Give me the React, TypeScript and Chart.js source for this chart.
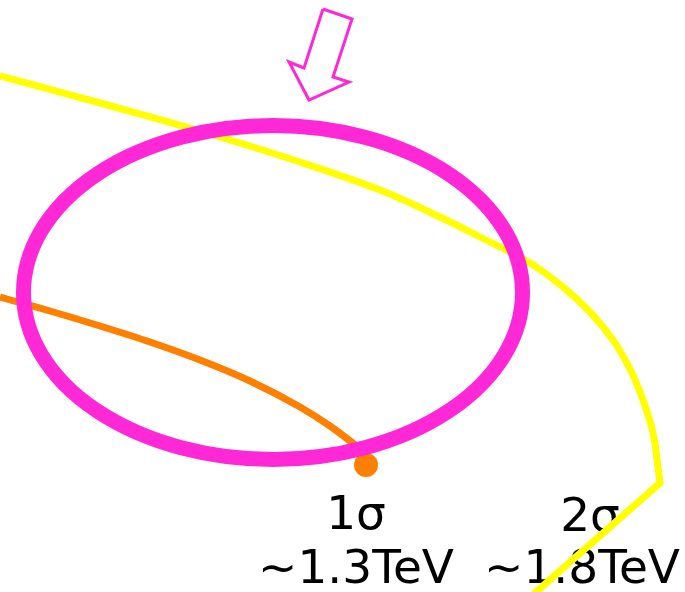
import { useEffect, useRef } from 'react';
import { Chart, registerables } from 'chart.js';

Chart.register(...registerables);

// Plane coordinates: x runs 0..685 to the right, y runs 0..592 downward.
const PLANE_W = 685;
const PLANE_H = 592;

// 2σ contour (yellow): smooth arc, then a straight edge after the corner
const yellowArcX = [0, 100, 200, 300, 380, 440, 480, 530, 563, 590, 613, 630, 643, 653, 658, 660];
const yellowArcY = [76, 103, 131, 162, 190, 217, 237, 263, 287, 312, 340, 369, 400, 433, 467, 483];
const yellowEdgeX = [660, 536, 529];
const yellowEdgeY = [483, 592, 598];

// 1σ contour (orange)
const orangeX = [0, 50, 100, 150, 200, 250, 300, 330, 358];
const orangeY = [297, 311, 326, 342, 360, 381, 407, 426, 447];

// end point of the 1σ contour
const dotX = [366];
const dotY = [465];

// outlined pointer arrow
const arrowX = [323, 352, 333, 349, 309, 289, 304, 323];
const arrowY = [9, 19, 77, 82, 100, 62, 68, 9];

// highlighted region (ellipse): centre and semi-axes
const ringCenter = [273, 292.5];
const ringRadii = [249.5, 167];

// annotations: [x centre, baseline y, text]
const labelX = [356, 356, 590, 582];
const labelY = [529, 583, 531, 583];
const labelText = ['1σ', '~1.3TeV', '2σ', '~1.8TeV'];

const YELLOW = '#ffff00';
const ORANGE = '#ff8000';
const MAGENTA = '#ff28d6';

const pts = (xs: number[], ys: number[]) => xs.map((x, i) => ({ x, y: ys[i] }));

const labelPlugin = {
  id: 'sigmaLabels',
  beforeDatasetsDraw(chart: any) {
    const { ctx, scales } = chart;
    ctx.save();
    ctx.fillStyle = '#000000';
    ctx.font = '47px "DejaVu Sans"';
    ctx.textAlign = 'center';
    ctx.textBaseline = 'alphabetic';
    labelText.forEach((t, i) => {
      ctx.fillText(t, scales.x.getPixelForValue(labelX[i]), scales.y.getPixelForValue(labelY[i]));
    });
    ctx.restore();
  },
};

const ringPlugin = {
  id: 'ring',
  afterDatasetsDraw(chart: any) {
    const { ctx, scales } = chart;
    const cx = scales.x.getPixelForValue(ringCenter[0]);
    const cy = scales.y.getPixelForValue(ringCenter[1]);
    const rx = Math.abs(scales.x.getPixelForValue(ringCenter[0] + ringRadii[0]) - cx);
    const ry = Math.abs(scales.y.getPixelForValue(ringCenter[1] + ringRadii[1]) - cy);
    ctx.save();
    ctx.beginPath();
    ctx.ellipse(cx, cy, rx, ry, 0, 0, Math.PI * 2);
    ctx.lineWidth = 15;
    ctx.strokeStyle = MAGENTA;
    ctx.stroke();
    ctx.restore();
  },
};

export default function App() {
  const canvasRef = useRef<HTMLCanvasElement | null>(null);

  useEffect(() => {
    if (!canvasRef.current) return;
    const chart = new Chart(canvasRef.current, {
      type: 'scatter',
      data: {
        datasets: [
          {
            data: pts(dotX, dotY),
            pointRadius: 12,
            pointBackgroundColor: ORANGE,
            pointBorderWidth: 0,
            showLine: false,
          },
          {
            data: pts(orangeX, orangeY),
            showLine: true,
            borderColor: ORANGE,
            borderWidth: 7,
            pointRadius: 0,
            cubicInterpolationMode: 'monotone',
          },
          {
            data: pts(yellowArcX, yellowArcY),
            showLine: true,
            borderColor: YELLOW,
            borderWidth: 7,
            pointRadius: 0,
            tension: 0.4,
          },
          {
            data: pts(yellowEdgeX, yellowEdgeY),
            showLine: true,
            borderColor: YELLOW,
            borderWidth: 7,
            borderCapStyle: 'round',
            pointRadius: 0,
            tension: 0,
          },
          {
            data: pts(arrowX, arrowY),
            showLine: true,
            borderColor: MAGENTA,
            borderWidth: 3,
            borderJoinStyle: 'miter',
            pointRadius: 0,
            tension: 0,
          },
        ] as any,
      },
      options: {
        animation: false,
        responsive: true,
        maintainAspectRatio: false,
        layout: { padding: 0, autoPadding: false },
        plugins: {
          legend: { display: false },
          tooltip: { enabled: false },
        },
        scales: {
          x: { type: 'linear', min: 0, max: PLANE_W, display: false },
          y: { type: 'linear', min: 0, max: PLANE_H, reverse: true, display: false },
        },
      },
      plugins: [labelPlugin, ringPlugin],
    });
    return () => chart.destroy();
  }, []);

  return (
    <div
      style={{
        position: 'fixed',
        left: 0,
        top: 0,
        width: PLANE_W,
        height: PLANE_H,
        background: '#ffffff',
      }}
    >
      <canvas ref={canvasRef} />
    </div>
  );
}
